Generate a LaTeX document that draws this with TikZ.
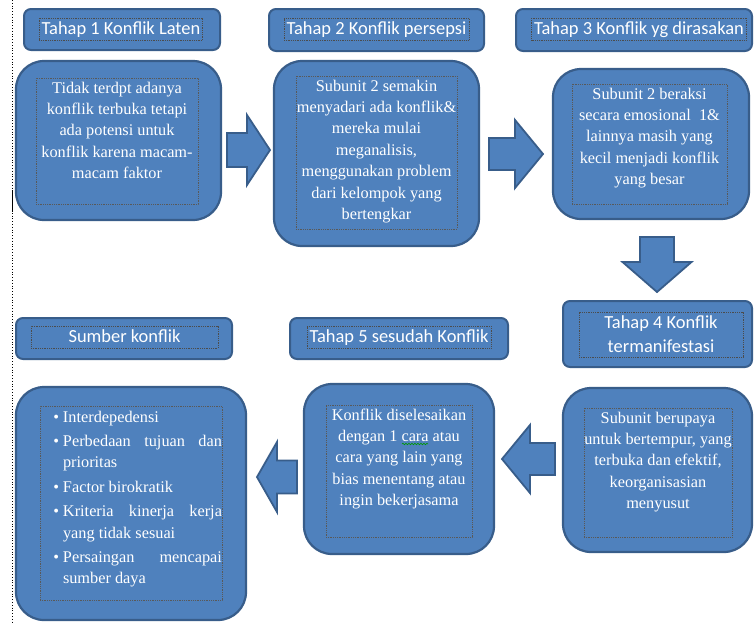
\documentclass[tikz,border=0pt]{standalone}
\usepackage{fontspec}
\setmainfont{Liberation Serif}
\newfontfamily\titlefont{Carlito}
\usetikzlibrary{decorations.pathmorphing}
\definecolor{boxfill}{HTML}{4F81BD}
\definecolor{boxline}{HTML}{385D8A}
\newcommand{\boxpar}[3]{\parbox[c][#2][t]{#1}{\centering\rule{0pt}{15pt}#3}}
\newcommand{\bitem}[1]{\noindent\llap{\textbullet\hspace{4pt}}#1\par\vspace{3pt}}
\begin{document}
\begin{tikzpicture}[x=1pt, y=-1pt, line join=round]
	\tikzset{titlebox/.style={fill=boxfill, draw=boxline, line width=2pt, rounded corners=7pt, inner sep=0pt},
		bodybox/.style={fill=boxfill, draw=boxline, line width=2.2pt, rounded corners=28pt, inner sep=0pt},
		titletext/.style={draw=black!70, densely dotted, line width=0.8pt, text=white, align=center,
			font=\titlefont\fontsize{18.45}{24}\selectfont, inner xsep=2.5pt, inner ysep=1pt},
		onerow/.style={text height=15pt, text depth=5pt},
		bodytext/.style={draw=black!65, densely dotted, line width=0.8pt, text=white,
			font=\fontsize{16.3}{21.4}\selectfont, inner sep=0pt},
		blockarrow/.style={fill=boxfill, draw=boxline, line width=1.8pt, line join=miter}}
	\useasboundingbox (0,0) rectangle (754,622);
	\draw[dotted, line width=0.8pt] (12,0) -- (12,622);
	\draw[line width=1.6pt] (12.5,190) -- (12.5,212);
	% judul
	\node[titlebox, minimum width=196, minimum height=41] (t1) at (122,29.5) {};
	\node[titlebox, minimum width=215, minimum height=42] (t2) at (376.5,30) {};
	\node[titlebox, minimum width=236, minimum height=42] (t3) at (634,30) {};
	\node[titlebox, minimum width=189, minimum height=66] (t4) at (657.5,334) {};
	\node[titlebox, minimum width=218, minimum height=41] (t5) at (399,338.5) {};
	\node[titlebox, minimum width=216, minimum height=41] (t6) at (124,338.5) {};
	\node[titletext, onerow] (t1txt) at (121,29) {Tahap 1 Konflik Laten};
	\node[titletext, onerow] (t2txt) at (376.5,29) {Tahap 2 Konflik persepsi};
	\node[titletext, onerow] (t3txt) at (639,29) {Tahap 3 Konflik yg dirasakan};
	\node[titletext, minimum width=164, minimum height=45] (t4txt) at (661,334.5) {Tahap 4 Konflik\\termanifestasi};
	\node[titletext, onerow] (t5txt) at (399,337) {Tahap 5 sesudah Konflik};
	\node[titletext, onerow, minimum width=187] (t6txt) at (124.5,337) {Sumber konflik};
	% isi
	\node[bodybox, minimum width=205, minimum height=159] (b1) at (118.5,140.5) {};
	\node[bodybox, minimum width=205, minimum height=185] (b2) at (376.5,153.5) {};
	\node[bodybox, minimum width=196, minimum height=150] (b3) at (651,144) {};
	\node[bodybox, minimum width=189, minimum height=164] (b4) at (657.5,470) {};
	\node[bodybox, minimum width=190, minimum height=170] (b5) at (399,469) {};
	\node[bodybox, minimum width=230, minimum height=233] (b6) at (131,503.5) {};
	\node[bodytext] (b1txt) at (117,141) {\boxpar{162pt}{126pt}{Tidak terdpt adanya\\konflik terbuka tetapi\\ada potensi untuk\\konflik karena macam-\\macam faktor}};
	\node[bodytext] (b2txt) at (376.5,152.5) {\boxpar{161pt}{153pt}{Subunit 2 semakin\\menyadari ada konflik\&\\mereka mulai\\meganalisis,\\menggunakan problem\\dari kelompok yang\\bertengkar}};
	\node[bodytext] (b3txt) at (649.5,144) {\boxpar{155pt}{120pt}{Subunit 2 beraksi\\secara emosional\ \ 1\&\\lainnya masih yang\\kecil menjadi konflik\\yang besar}};
	\node[bodytext] (b4txt) at (658,472.5) {\boxpar{148pt}{129pt}{Subunit berupaya\\untuk bertempur, yang\\terbuka dan efektif,\\keorganisasian\\menyusut}};
	\node[bodytext] (b5txt) at (399,471) {\boxpar{146pt}{132pt}{Konflik diselesaikan\\dengan 1 cara atau\\cara yang lain yang\\bias menentang atau\\ingin bekerjasama}};
	\node[bodytext] (b6txt) at (131,503) {\parbox[c][194pt][t]{182pt}{\leftskip=23pt
			\bitem{\rule{0pt}{16pt}Interdepedensi}
			\bitem{Perbedaan tujuan dan\linebreak prioritas}
			\bitem{Factor birokratik}
			\bitem{Kriteria kinerja kerja\linebreak yang tidak sesuai}
			\bitem{Persaingan mencapai\linebreak sumber daya}}};
	\draw[green!60!black, line width=0.6pt, decorate, decoration={snake, amplitude=0.8pt, segment length=3pt}] (402,444) -- (428,444);
	% panah
	\foreach \tx/\ty/\ang/\len/\hl/\hw/\sw in {270/150/0/43/23/35/17, 543/154/0/54/28/34/16, 657/292/-90/55/30/34.5/17, 502/459/180/53/28/34/16, 257/477/180/40/20/35/16.5}
	\draw[blockarrow, shift={(\tx,\ty)}, rotate=\ang] (0,0) -- (-\hl,\hw) -- (-\hl,\sw) -- (-\len,\sw) -- (-\len,-\sw) -- (-\hl,-\sw) -- (-\hl,-\hw) -- cycle;
\end{tikzpicture}
\end{document}
